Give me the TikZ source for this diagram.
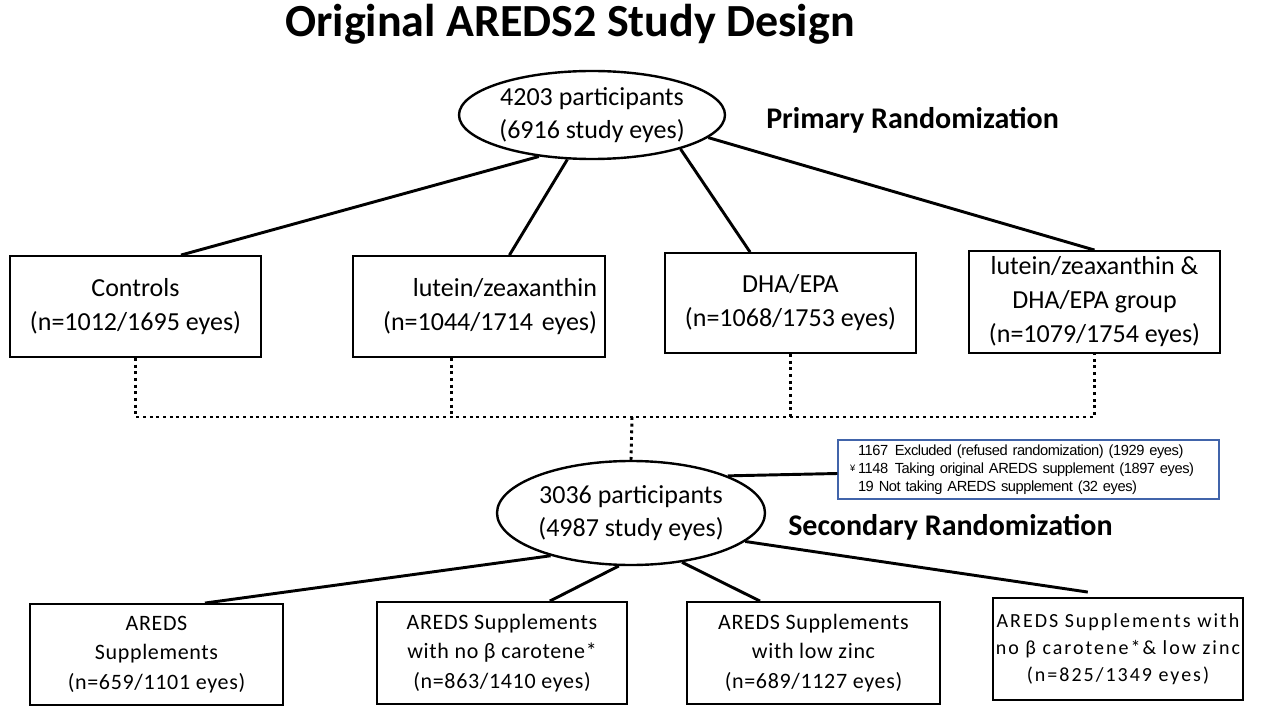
\documentclass[tikz,border=0pt]{standalone}
\usepackage{fontspec}
\setmainfont{Carlito}
\newfontfamily\notefont[LetterSpace=-3]{Liberation Sans}
\newfontfamily\trackedfont[LetterSpace=3]{Carlito}
\newfontfamily\widefont[LetterSpace=10]{Carlito}
\usetikzlibrary{shapes.geometric,calc}
\newdimen\pxu
\pxu=0.75pt
\definecolor{noteblue}{RGB}{65,100,170}
\tikzset{
  link/.style={line width=2.2pt},
  dotlink/.style={line width=2.2pt, dash pattern=on 2.2pt off 2.8pt},
  armbox/.style={draw, line width=1.4pt, inner sep=0pt, align=center,
    minimum width=251\pxu, minimum height=101\pxu,
    font=\fontsize{19.5}{25.5}\selectfont},
  subbox/.style={draw, line width=1.4pt, inner sep=0pt, align=center,
    minimum width=252\pxu, minimum height=102\pxu,
    font=\trackedfont\fontsize{16.5}{22}\selectfont},
  cohort/.style={draw, ellipse, line width=1.8pt, inner sep=0pt, align=center,
    font=\fontsize{19.5}{24.75}\selectfont},
  heading/.style={font=\bfseries\fontsize{22.5}{27}\selectfont, anchor=west, inner sep=0pt},
}
\begin{document}
\begin{tikzpicture}[x=0.75pt, y=-0.75pt]
\useasboundingbox (0,0) rectangle (1268,706);

% title and stage headings
\node[font=\bfseries\fontsize{34.5}{40}\selectfont, inner sep=0pt] (title) at (570,24) {Original AREDS2 Study Design};
\node[heading] (prim) at (766,120) {Primary Randomization};
\node[heading] (sec) at (788,527) {Secondary Randomization};

% cohorts
\node[cohort, minimum width=266\pxu, minimum height=88\pxu] (e1) at (592,115) {4203 participants\\(6916 study eyes)};
\node[cohort, minimum width=268\pxu, minimum height=104\pxu] (e2) at (631,513) {3036 participants\\(4987 study eyes)};

% primary randomization arms
\node[armbox] (c1) at (135.5,306.5) {Controls\\(n=1012/1695 eyes)};
\node[armbox, minimum width=252\pxu, text width=236\pxu, align=right] (c2) at (479,306.5) {lutein/zeaxanthin\\(n=1044/1714 eyes)};
\node[armbox, minimum height=100\pxu] (c3) at (790.5,303) {DHA/EPA\\(n=1068/1753 eyes)};
\node[armbox, minimum height=102\pxu] (c4) at (1094.5,302) {lutein/zeaxanthin \&\\DHA/EPA group\\(n=1079/1754 eyes)};

% secondary randomization arms
\node[subbox, minimum width=253\pxu, minimum height=101\pxu] (b1) at (156.5,654.5) {AREDS\\Supplements\\(n=659/1101 eyes)};
\node[subbox, minimum width=250\pxu] (b2) at (502,653) {AREDS Supplements\\with no β carotene*\\(n=863/1410 eyes)};
\node[subbox, minimum width=253\pxu] (b3) at (813.5,653) {AREDS Supplements\\with low zinc\\(n=689/1127 eyes)};
\node[subbox, minimum width=250\pxu, font=\widefont\fontsize{15}{20}\selectfont] (b4) at (1118,649) {AREDS Supplements with\\no β carotene*\& low zinc\\(n=825/1349 eyes)};

% participants leaving before the secondary randomization
\node[draw=noteblue, line width=1pt, minimum height=59\pxu, text width=341\pxu,
  inner xsep=20\pxu, inner ysep=0pt, align=left,
  font=\notefont\fontsize{11}{13.5}\selectfont] (excl) at (1028.5,469.5)
  {1167\hspace{0.45em}Excluded (refused randomization) (1929 eyes)\\
   \leavevmode\llap{\raisebox{1.5pt}{\fontsize{7}{7}\selectfont ¥}\hspace{2pt}}1148\hspace{0.45em}Taking original AREDS supplement (1897 eyes)\\
   19 Not taking AREDS supplement (32 eyes)};

% primary branches
\draw[link] (e1.218) -- ($(c1.north west)!0.68!(c1.north east)$);
\draw[link] (e1.241) -- ($(c2.north west)!0.62!(c2.north east)$);
\draw[link] (e1.339) -- ($(c3.north west)!0.34!(c3.north east)$);
\draw[link] (e1.349) -- (c4.north);

% pooling of the four arms
\coordinate (bus) at (632,417);
\coordinate (c2d) at ($(c2.south west)!0.39!(c2.south east)$);
\draw[dotlink] (c1.south) -- (c1.south |- bus) -- (c4.south |- bus) -- (c4.south);
\draw[dotlink] (c2d) -- (c2d |- bus);
\draw[dotlink] (c3.south) -- (c3.south |- bus);
\draw[dotlink] (bus) -- (e2.north);

% secondary branches
\draw[link] (e2.21) -- ($(excl.west)+(0,4)$);
\draw[link] (e2.208) -- ($(b1.north west)!0.69!(b1.north east)$);
\draw[link] (e2.257) -- ($(b2.north west)!0.69!(b2.north east)$);
\draw[link] (e2.316) -- ($(b3.north west)!0.29!(b3.north east)$);
\draw[link] (e2.346) -- ($(b4.north west)!0.38!(b4.north east)+(0,-5)$);
\end{tikzpicture}
\end{document}
